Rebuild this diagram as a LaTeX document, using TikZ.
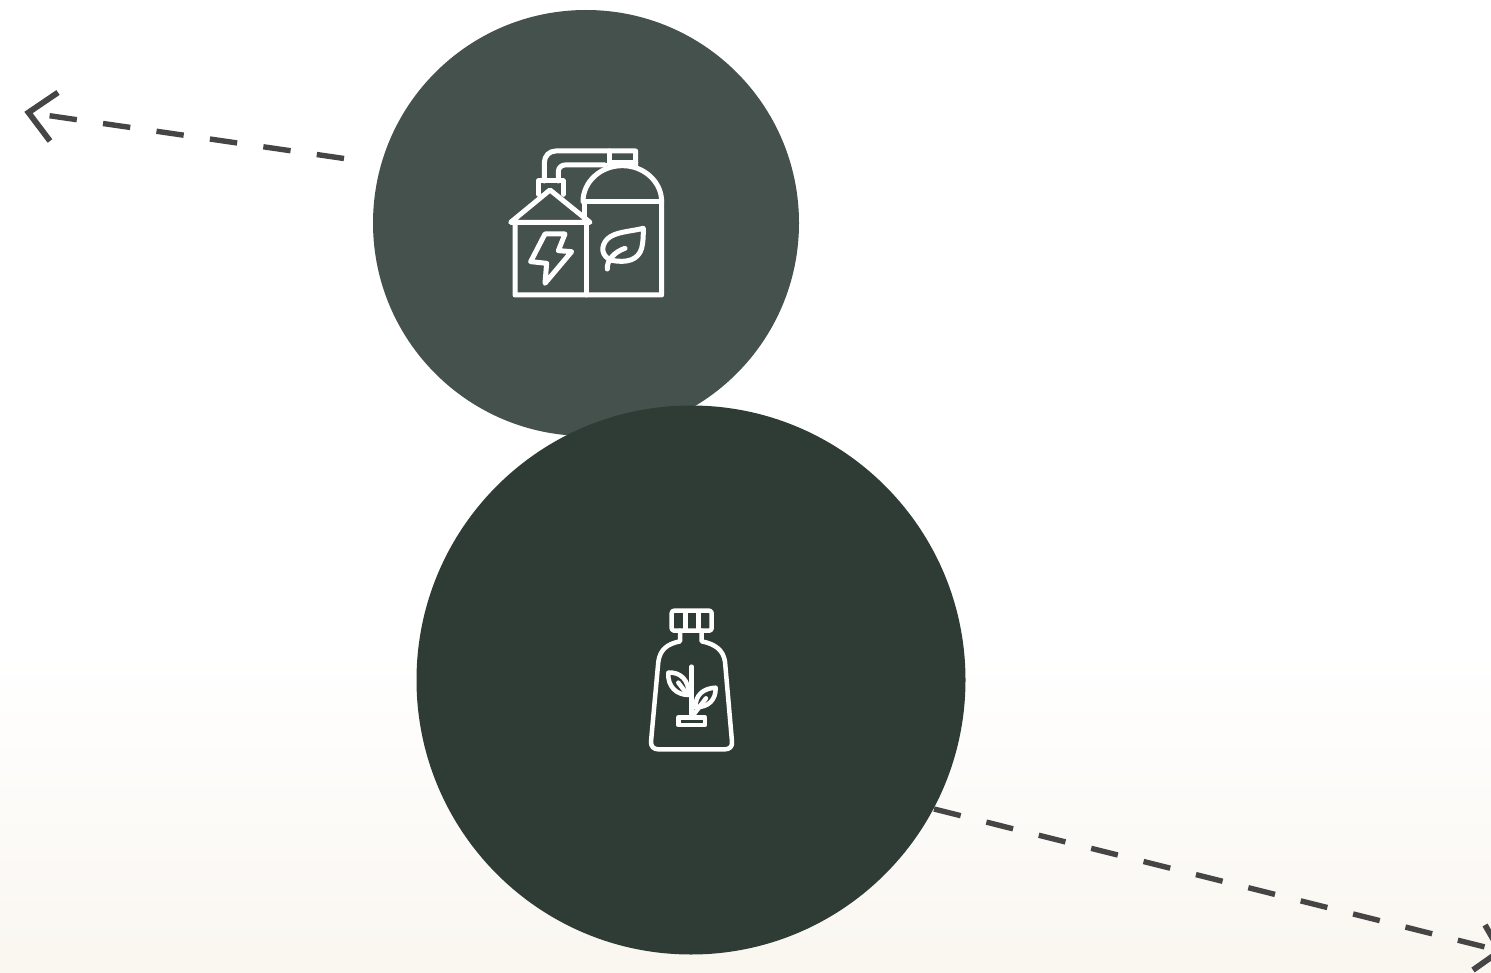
\documentclass[tikz,border=0pt]{standalone}
\begin{document}
\begin{tikzpicture}[x=1pt,y=-1pt,
  dashline/.style={draw=arrowgrey,line width=5.4pt,dash pattern=on 27.5pt off 26.5pt},
  tipline/.style={draw=arrowgrey,line width=5.8pt,miter limit=10},
  bubble/.style={circle,inner sep=0pt,outer sep=0pt},
  iconA/.style={draw=white,line width=5pt,line cap=round,line join=round},
  iconB/.style={draw=white,line width=4.5pt,line cap=round,line join=round}]
\definecolor{arrowgrey}{HTML}{454545}
\definecolor{topfill}{HTML}{45514C}
\definecolor{lowfill}{HTML}{2F3C35}
\definecolor{sand}{HTML}{FAF7F1}
\useasboundingbox (0,0) rectangle (1491,973);
\clip (0,0) rectangle (1491,973);
\fill[white] (0,0) rectangle (1491,973);
\shade[top color=white,bottom color=sand] (0,655) rectangle (1491,955);
\fill[sand] (0,954) rectangle (1491,973);
% coordinates
\coordinate (leftstart) at (344,158.5);
\coordinate (leftend) at (48,115.5);
\coordinate (lefttip) at (28.5,112.5);
\coordinate (lefta) at (58,92.5);
\coordinate (leftb) at (50,141);
\coordinate (rightstart) at (934,809);
\coordinate (rightend) at (1485,947);
\coordinate (righttip) at (1500,951);
\coordinate (righta) at (1485,925);
\coordinate (rightb) at (1473,970);
% connectors
\draw[dashline] (leftstart) -- (leftend);
\draw[tipline] (lefta) -- (lefttip) -- (leftb);
\draw[dashline] (rightstart) -- (rightend);
\draw[tipline] (righta) -- (righttip) -- (rightb);
% circles
\node[bubble,fill=topfill,minimum size=426pt] (upper) at (586,223) {};
\node[bubble,fill=lowfill,minimum size=549pt] (lower) at (691,680) {};
% icon 1
\begin{scope}[shift={(490,135)},x=0.3333pt,y=-0.3333pt,iconA]
  \draw (62,262) -- (180,165) -- (300,262) -- cycle;
  \draw (75,262) -- (75,480) -- (515,480) -- (515,200) arc[start angle=0,end angle=180,x radius=118,y radius=-108] -- (279,200);
  \draw (285,200) -- (285,250);
  \draw (290,262) -- (290,480);
  \draw (285,200) -- (515,200);
  \draw (145,178) -- (145,138) -- (220,138) -- (220,178);
  \draw (163,138) -- (163,82) arc[start angle=180,end angle=90,x radius=34,y radius=-34] -- (437,48) -- (437,90);
  \draw (205,138) -- (205,110) arc[start angle=180,end angle=90,x radius=20,y radius=-20] -- (345,90);
  \draw (360,48) -- (360,90);
  \draw (360,84) -- (437,84);
  \draw (165,297) -- (225,297) -- (205,347) -- (245,350) -- (165,445) -- (170,385) -- (122,380) -- cycle;
  \draw (460,280) .. controls (420,290) and (375,290) .. (352,312) .. controls (330,335) and (335,365) .. (365,376) .. controls (410,385) and (445,375) .. (455,340) .. controls (460,320) and (460,300) .. (460,280) -- cycle;
  \draw (352,402) .. controls (350,375) and (375,350) .. (405,340);
\end{scope}
% icon 2
\begin{scope}[shift={(630,600)},x=0.3333pt,y=-0.3333pt,iconB]
  \draw[rounded corners=2.5pt] (125,32) rectangle (245,92);
  \draw (167,36) -- (167,90) (205,36) -- (205,90);
  \draw (150,92) -- (150,124) .. controls (110,132) and (90,150) .. (85,185) -- (63,425) .. controls (62,440) and (72,448) .. (85,448) -- (285,448) .. controls (298,448) and (308,440) .. (306,425) -- (285,185) .. controls (280,150) and (255,132) .. (215,124) -- (215,92);
  \draw (185,200) -- (185,350);
  \draw (145,352) rectangle (225,375);
  \draw (115,218) .. controls (150,215) and (178,240) .. (176,285) .. controls (140,285) and (112,260) .. (115,218) -- cycle;
  \draw (145,248) -- (168,278);
  \draw (257,263) .. controls (220,265) and (195,285) .. (197,322) .. controls (235,322) and (258,300) .. (257,263) -- cycle;
  \draw (192,342) -- (228,295);
\end{scope}
\end{tikzpicture}
\end{document}
